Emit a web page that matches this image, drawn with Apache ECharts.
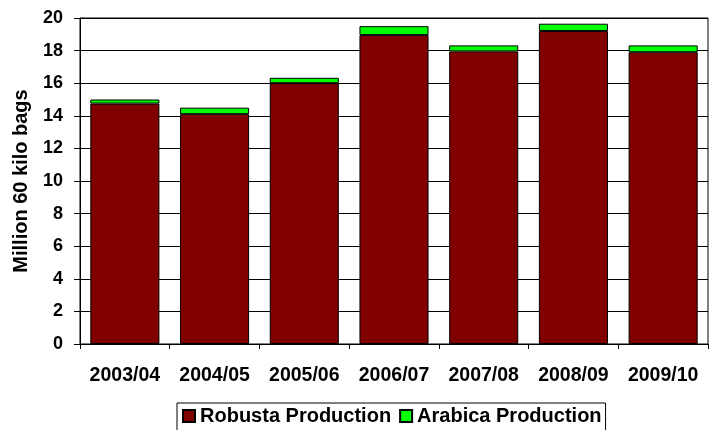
<!DOCTYPE html>
<html>
<head>
<meta charset="utf-8">
<script src="https://cdn.jsdelivr.net/npm/echarts@6/dist/echarts.min.js"></script>
<style>
html,body{margin:0;padding:0;background:#fff;}
#chart{width:710px;height:430px;}
</style>
</head>
<body>
<div id="chart"></div>
<script>
const categories = ['2003/04','2004/05','2005/06','2006/07','2007/08','2008/09','2009/10'];
const robusta = [14.75, 14.1, 16.0, 18.95, 17.95, 19.2, 17.9];
const arabica = [0.25, 0.4, 0.33, 0.55, 0.37, 0.45, 0.42];
const yTicks = {min: 0, max: 20, interval: 2};

const FONT = '"Liberation Sans", Arial, sans-serif';
const chart = echarts.init(document.getElementById('chart'), null, {renderer: 'canvas'});
chart.setOption({
  animation: false,
  backgroundColor: '#fff',
  grid: {left: 80, right: 2, top: 18, bottom: 86, show: true, borderColor: '#000', borderWidth: 1, backgroundColor: 'transparent'},
  legend: {
    left: 177, top: 403,
    padding: [3, 4, 5, 5],
    borderColor: '#000', borderWidth: 1,
    itemWidth: 12, itemHeight: 12, itemGap: 8,
    icon: 'rect',
    textStyle: {fontFamily: FONT, fontWeight: 'bold', fontSize: 20, color: '#000'},
    data: ['Robusta Production', 'Arabica Production']
  },
  xAxis: {
    type: 'category',
    data: categories,
    axisLine: {lineStyle: {color: '#000', width: 1}},
    axisTick: {show: true, length: 5, lineStyle: {color: '#000'}},
    axisLabel: {margin: 22, fontFamily: FONT, fontWeight: 'bold', fontSize: 19.5, color: '#000', interval: 0}
  },
  yAxis: {
    type: 'value',
    min: yTicks.min, max: yTicks.max, interval: yTicks.interval,
    name: 'Million 60 kilo bags',
    nameLocation: 'middle',
    nameGap: 49,
    nameTextStyle: {fontFamily: FONT, fontWeight: 'bold', fontSize: 20, color: '#000'},
    axisLine: {show: true, lineStyle: {color: '#000', width: 1}},
    axisTick: {show: true, length: 6, lineStyle: {color: '#000'}},
    axisLabel: {margin: 17, fontFamily: FONT, fontWeight: 'bold', fontSize: 18, color: '#000'},
    splitLine: {show: true, lineStyle: {color: '#000', width: 1}}
  },
  series: [
    {
      name: 'Robusta Production', type: 'bar', stack: 'total', data: robusta,
      barCategoryGap: '23%',
      itemStyle: {color: '#800000', borderColor: '#000', borderWidth: 1}
    },
    {
      name: 'Arabica Production', type: 'bar', stack: 'total', data: arabica,
      barCategoryGap: '23%',
      itemStyle: {color: '#00ff00', borderColor: '#000', borderWidth: 1}
    }
  ]
});
</script>
</body>
</html>
